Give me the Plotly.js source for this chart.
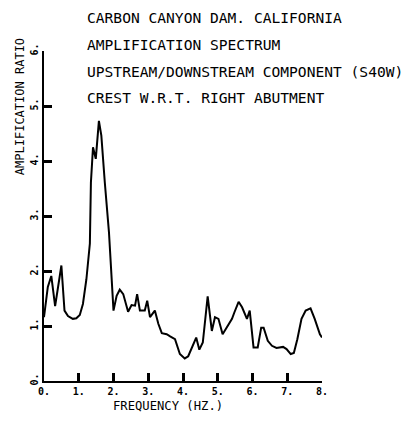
<!DOCTYPE html>
<html>
<head>
<meta charset="utf-8">
<script src="https://cdn.plot.ly/plotly-3.0.1.min.js"></script>
<style>html,body{margin:0;padding:0;background:#fff;}#chart{width:414px;height:424px;}</style>
</head>
<body>
<div id="chart"></div>
<script>
const titleLines = [
  "CARBON CANYON DAM. CALIFORNIA",
  "AMPLIFICATION SPECTRUM",
  "UPSTREAM/DOWNSTREAM COMPONENT (S40W)",
  "CREST W.R.T. RIGHT ABUTMENT"
];
const xTitle = "FREQUENCY (HZ.)";
const yTitle = "AMPLIFICATION RATIO";
const xTickVals = [0,1,2,3,4,5,6,7,8];
const xTickText = ["0.","1.","2.","3.","4.","5.","6.","7.","8."];
const yTickVals = [0,1,2,3,4,5,6];
const yTickText = ["0.","1.","2.","3.","4.","5.","6."];

const freq = [0.0,0.11,0.21,0.32,0.50,0.59,0.69,0.83,0.93,1.03,1.12,1.22,1.32,1.35,1.41,1.49,1.58,1.65,1.75,1.87,2.0,2.09,2.18,2.28,2.42,2.52,2.62,2.68,2.76,2.90,2.97,3.05,3.19,3.29,3.39,3.53,3.63,3.77,3.91,4.05,4.15,4.38,4.47,4.57,4.71,4.83,4.92,5.02,5.14,5.26,5.41,5.48,5.60,5.70,5.84,5.92,6.03,6.15,6.25,6.32,6.44,6.56,6.69,6.88,6.98,7.10,7.19,7.29,7.41,7.53,7.67,7.79,7.94,8.0];
const amp  = [1.16,1.71,1.91,1.36,2.10,1.28,1.18,1.13,1.14,1.20,1.40,1.85,2.50,3.61,4.25,4.04,4.73,4.46,3.61,2.70,1.28,1.55,1.66,1.58,1.26,1.38,1.37,1.58,1.28,1.28,1.46,1.16,1.28,1.04,0.87,0.85,0.81,0.76,0.49,0.41,0.45,0.79,0.57,0.70,1.54,0.91,1.16,1.13,0.85,0.97,1.13,1.25,1.44,1.34,1.13,1.28,0.61,0.61,0.97,0.97,0.73,0.64,0.60,0.62,0.58,0.49,0.51,0.76,1.13,1.28,1.32,1.13,0.85,0.79];

const txtFont = {family: "DejaVu Sans Mono", size: 14.6, color: "black"};
const annotations = titleLines.map((t, i) => ({
  text: t, xref: "paper", yref: "paper", x: 0.1475, y: [1.103, 1.021, 0.939, 0.858][i],
  xanchor: "left", yanchor: "middle", showarrow: false, font: txtFont
}));
annotations.push({text: yTitle, xref: "paper", yref: "paper", x: -0.086, y: 0.83, textangle: -90,
  xanchor: "center", yanchor: "middle", showarrow: false, font: {family: "DejaVu Sans Mono", size: 12, color: "black"}});
annotations.push({text: xTitle, xref: "paper", yref: "paper", x: 0.446, y: -0.076,
  xanchor: "center", yanchor: "middle", showarrow: false, font: {family: "DejaVu Sans Mono", size: 12.2, color: "black"}});

const tickFont = {family: "DejaVu Sans Mono", size: 10, color: "black"};
const layout = {
  width: 414, height: 424,
  margin: {l: 44, r: 92, t: 51, b: 43, pad: 0},
  showlegend: false,
  xaxis: {range: [0, 8], tickmode: "array", tickvals: xTickVals, ticktext: xTickText.map(t => "<b>" + t + "</b>"),
    ticks: "inside", ticklen: 8, tickwidth: 2.5, tickcolor: "black",
    showline: true, linecolor: "black", linewidth: 2, showgrid: false, zeroline: false, tickfont: tickFont},
  yaxis: {range: [0, 6], tickmode: "array", tickvals: yTickVals, ticktext: yTickText.map(t => "<b>" + t + "</b>"),
    ticks: "inside", ticklen: 8, tickwidth: 2.5, tickcolor: "black",
    showline: true, linecolor: "black", linewidth: 2, showgrid: false, zeroline: false, tickfont: tickFont, tickangle: -90},
  annotations: annotations
};
Plotly.newPlot("chart", [{x: freq, y: amp, type: "scatter", mode: "lines", line: {color: "black", width: 2}}], layout, {displayModeBar: false});
</script>
</body>
</html>
